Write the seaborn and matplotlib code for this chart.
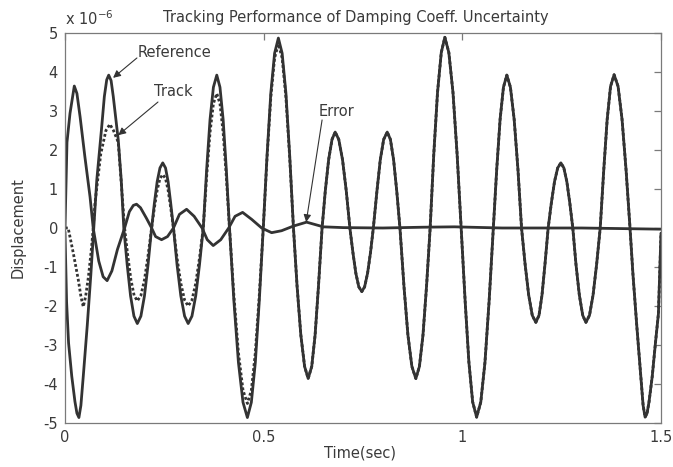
import matplotlib
matplotlib.use("Agg")
import matplotlib.pyplot as plt
import pandas as pd
import seaborn as sns

# Reference displacement (x 1e-6), sampled densely around each swing
ref_time = [0.000, 0.004, 0.009, 0.017, 0.025, 0.030, 0.035, 0.040, 0.046, 0.056, 0.065, 0.0725,
            0.080, 0.092, 0.099, 0.105, 0.110, 0.116, 0.1215, 0.134, 0.1415, 0.148,
            0.1565, 0.165, 0.1735, 0.182, 0.191, 0.200, 0.209, 0.218,
            0.225, 0.232, 0.239, 0.246, 0.253, 0.2595, 0.266, 0.273,
            0.282, 0.2915, 0.301, 0.310, 0.3195, 0.329, 0.3385, 0.348,
            0.3565, 0.365, 0.3735, 0.382, 0.390, 0.398, 0.406, 0.414,
            0.425, 0.4365, 0.448, 0.459, 0.469, 0.479, 0.489, 0.499,
            0.5085, 0.518, 0.5275, 0.537, 0.5465, 0.556, 0.5655, 0.575,
            0.584, 0.5935, 0.603, 0.612, 0.621, 0.6295, 0.638, 0.647,
            0.655, 0.6635, 0.672, 0.680, 0.689, 0.6985, 0.708, 0.717,
            0.7245, 0.732, 0.7395, 0.747, 0.754, 0.7615, 0.769, 0.776,
            0.785, 0.7935, 0.802, 0.811, 0.819, 0.827, 0.835, 0.843,
            0.853, 0.863, 0.873, 0.883, 0.892, 0.901, 0.910, 0.919,
            0.928, 0.9375, 0.947, 0.956, 0.966, 0.9765, 0.987, 0.997,
            1.007, 1.0165, 1.026, 1.036, 1.0465, 1.057, 1.0675, 1.078,
            1.0865, 1.095, 1.1035, 1.112, 1.121, 1.1305, 1.140, 1.149,
            1.158, 1.167, 1.176, 1.185, 1.193, 1.2005, 1.208, 1.216,
            1.224, 1.232, 1.240, 1.248, 1.2555, 1.263, 1.2705, 1.278,
            1.286, 1.2945, 1.303, 1.311, 1.320, 1.329, 1.338, 1.347,
            1.356, 1.3645, 1.373, 1.382, 1.392, 1.402, 1.412, 1.422,
            1.4295, 1.439, 1.449, 1.455, 1.460, 1.465, 1.470, 1.478, 1.486, 1.4935, 1.500]
ref_value = [-0.10, -1.90, -2.95, -3.80, -4.45, -4.75, -4.86, -4.55, -3.80, -2.50, -1.20, 0.00,
             1.23, 2.55, 3.37, 3.80, 3.92, 3.78, 3.37, 2.26, 1.23, 0.00,
             -0.94, -1.74, -2.26, -2.45, -2.26, -1.74, -0.94, 0.00,
             0.64, 1.19, 1.54, 1.67, 1.54, 1.19, 0.64, 0.00,
             -0.94, -1.74, -2.26, -2.45, -2.26, -1.74, -0.94, 0.00,
             1.50, 2.78, 3.61, 3.92, 3.61, 2.78, 1.50, 0.00,
             -1.86, -3.45, -4.47, -4.86, -4.47, -3.45, -1.86, 0.00,
             1.86, 3.46, 4.48, 4.87, 4.48, 3.46, 1.86, 0.00,
             -1.48, -2.74, -3.55, -3.86, -3.55, -2.74, -1.48, 0.00,
             0.94, 1.75, 2.27, 2.46, 2.27, 1.75, 0.94, 0.00,
             -0.62, -1.16, -1.51, -1.63, -1.51, -1.16, -0.62, 0.00,
             0.94, 1.75, 2.27, 2.46, 2.27, 1.75, 0.94, 0.00,
             -1.48, -2.74, -3.55, -3.86, -3.55, -2.74, -1.48, 0.00,
             1.87, 3.47, 4.50, 4.89, 4.50, 3.47, 1.87, 0.00,
             -1.86, -3.44, -4.46, -4.85, -4.46, -3.44, -1.86, 0.00,
             1.50, 2.78, 3.61, 3.92, 3.61, 2.78, 1.50, 0.00,
             -0.93, -1.72, -2.24, -2.42, -2.24, -1.72, -0.93, 0.00,
             0.64, 1.19, 1.54, 1.67, 1.54, 1.19, 0.64, 0.00,
             -0.93, -1.72, -2.24, -2.42, -2.24, -1.72, -0.93, 0.00,
             1.50, 2.78, 3.63, 3.93, 3.63, 2.78, 1.50, 0.00,
             -1.20, -2.50, -3.80, -4.55, -4.85, -4.75, -4.45, -3.80, -2.95, -2.20, -0.13]

# Tracked displacement during the transient; afterwards it sits on the reference
track_time = [0.000, 0.008, 0.021, 0.0335, 0.040, 0.046, 0.052, 0.059, 0.067, 0.071, 0.0755,
              0.090, 0.103, 0.113, 0.122, 0.134, 0.143, 0.150,
              0.158, 0.166, 0.174, 0.182, 0.191, 0.200, 0.209, 0.218,
              0.225, 0.232, 0.239, 0.246, 0.253, 0.2595, 0.266, 0.273,
              0.282, 0.2915, 0.301, 0.310, 0.3195, 0.329, 0.3385, 0.348,
              0.3565, 0.365, 0.3735, 0.382, 0.390, 0.398, 0.406, 0.414,
              0.425, 0.4365, 0.448, 0.459, 0.469, 0.479, 0.489, 0.499,
              0.5085, 0.518, 0.5275, 0.537, 0.5465, 0.556, 0.5655, 0.575]
track_value = [0.00, 0.00, -0.65, -1.33, -1.75, -2.02, -1.75, -1.25, -0.48, 0.00, 0.64,
               1.90, 2.50, 2.66, 2.50, 2.20, 0.97, 0.00,
               -0.71, -1.33, -1.73, -1.87, -1.73, -1.33, -0.71, 0.00,
               0.52, 0.97, 1.27, 1.37, 1.27, 0.97, 0.52, 0.00,
               -0.77, -1.42, -1.85, -2.00, -1.85, -1.42, -0.77, 0.00,
               1.32, 2.45, 3.19, 3.45, 3.19, 2.45, 1.32, 0.00,
               -1.72, -3.20, -4.16, -4.50, -4.16, -3.20, -1.72, 0.00,
               1.81, 3.35, 4.36, 4.72, 4.36, 3.35, 1.81, 0.00]

# Tracking error
err_time = [0.000, 0.005, 0.0126, 0.0234, 0.030, 0.038, 0.050, 0.063, 0.071,
            0.085, 0.096, 0.106, 0.118, 0.132, 0.150,
            0.162, 0.172, 0.180, 0.190, 0.205, 0.218,
            0.228, 0.243, 0.258, 0.273,
            0.288, 0.306, 0.325, 0.345,
            0.358, 0.373, 0.392, 0.412,
            0.428, 0.447, 0.470, 0.495,
            0.520, 0.545, 0.575, 0.608, 0.650, 0.700, 0.800, 0.900, 0.980,
            1.100, 1.300, 1.500]
err_value = [0.00, 2.20, 2.94, 3.64, 3.45, 2.85, 1.83, 0.80, 0.00,
             -0.85, -1.25, -1.35, -1.10, -0.55, 0.00,
             0.42, 0.58, 0.61, 0.52, 0.25, 0.00,
             -0.22, -0.30, -0.22, 0.00,
             0.35, 0.48, 0.30, 0.00,
             -0.30, -0.45, -0.30, 0.00,
             0.30, 0.40, 0.22, 0.00,
             -0.12, -0.07, 0.05, 0.15, 0.03, 0.01, 0.00, 0.02, 0.03,
             0.00, 0.00, -0.03]

x_ticks = [0, 0.5, 1, 1.5]
x_tick_labels = ["0", "0.5", "1", "1.5"]
y_ticks = [-5, -4, -3, -2, -1, 0, 1, 2, 3, 4, 5]

sns.set_style("white")
plt.rcParams["font.family"] = ["DejaVu Sans"]
plt.rcParams["mathtext.fontset"] = "dejavusans"
plt.rcParams["axes.unicode_minus"] = False

ink = "#333333"
text_ink = "#3a3a3a"
frame = "#7a7a7a"

ref_df = pd.DataFrame({"t": ref_time, "y": ref_value})
track_df = pd.DataFrame({
    "t": track_time + [t for t in ref_time if t > track_time[-1]],
    "y": track_value + [v for t, v in zip(ref_time, ref_value) if t > track_time[-1]],
})
err_df = pd.DataFrame({"t": err_time, "y": err_value})

fig = plt.figure(figsize=(6.73, 4.67), dpi=100)
ax = fig.add_axes([65 / 673, 44 / 467, 596 / 673, 390 / 467])

sns.lineplot(data=track_df, x="t", y="y", ax=ax, color=ink, lw=2.0,
             linestyle=(0, (1.0, 0.8)), estimator=None, sort=False)
sns.lineplot(data=ref_df, x="t", y="y", ax=ax, color=ink, lw=2.0,
             estimator=None, sort=False)
sns.lineplot(data=err_df, x="t", y="y", ax=ax, color=ink, lw=2.0,
             estimator=None, sort=False)

ax.set_xlim(0, 1.5)
ax.set_ylim(-5, 5)
ax.set_xticks(x_ticks)
ax.set_xticklabels(x_tick_labels)
ax.set_yticks(y_ticks)

for side in ax.spines.values():
    side.set_visible(True)
    side.set_color(frame)
    side.set_linewidth(0.9)
ax.tick_params(direction="in", top=True, right=True, length=5, width=0.9,
               color=frame, labelsize=10.5, labelcolor=text_ink, pad=5)

ax.set_title("Tracking Performance of Damping Coeff. Uncertainty",
             fontsize=10.5, color=text_ink, pad=8, x=0.488)
ax.set_xlabel("Time(sec)", fontsize=10.5, color=text_ink)
ax.set_ylabel("Displacement", fontsize=10.5, color=text_ink)
ax.xaxis.set_label_coords(0.495, -0.058)
ax.yaxis.set_label_coords(-0.066, 0.5)

ax.text(0.0, 1.02, r"x 10$^{-6}$", transform=ax.transAxes, ha="left",
        va="baseline", fontsize=10.5, color=text_ink)

arrow = dict(arrowstyle="-|>", color=ink, lw=0.8, mutation_scale=11,
             shrinkA=0, shrinkB=0)
ax.annotate("", xy=(0.121, 3.85), xytext=(0.181, 4.36), arrowprops=arrow)
ax.text(0.184, 4.51, "Reference", ha="left", va="center", fontsize=10.5, color=text_ink)
ax.annotate("", xy=(0.134, 2.38), xytext=(0.234, 3.23), arrowprops=arrow)
ax.text(0.224, 3.49, "Track", ha="left", va="center", fontsize=10.5, color=text_ink)
ax.annotate("", xy=(0.607, 0.15), xytext=(0.647, 2.77), arrowprops=arrow)
ax.text(0.639, 3.0, "Error", ha="left", va="center", fontsize=10.5, color=text_ink)

fig.savefig("out.png", dpi=100, facecolor="white")
